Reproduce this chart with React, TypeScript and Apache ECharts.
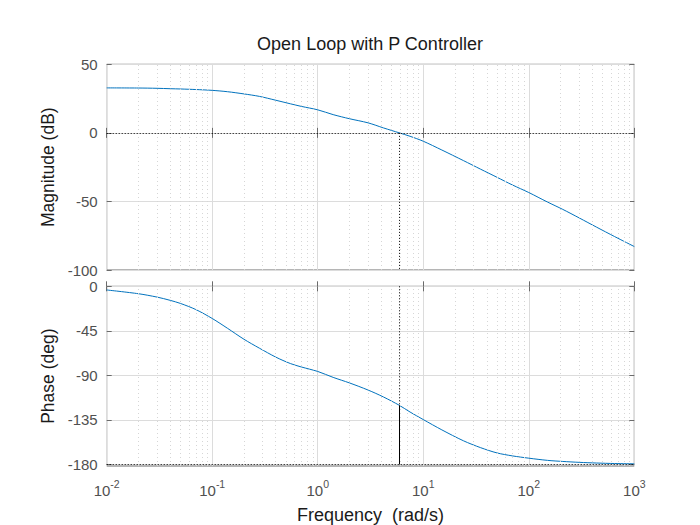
import { useEffect, useRef } from "react";
import * as echarts from "echarts";

// ---- data ----
const freq = [0.01, 0.02, 0.03, 0.04, 0.05, 0.07, 0.1, 0.14, 0.2, 0.28, 0.4, 0.55, 0.7, 1, 1.4, 2, 3, 4.2, 5.93, 7.5, 10, 15, 24, 35, 50, 70, 100, 150, 210, 300, 440, 650, 1000];
const magDb = [32.8, 32.7, 32.5, 32.2, 32.0, 31.6, 31.0, 30.0, 28.4, 26.6, 23.8, 21.2, 19.3, 16.8, 13.3, 10.3, 7.3, 3.6, 0, -2.5, -6.1, -12.5, -20.2, -26.5, -32.4, -38.0, -43.5, -50.4, -55.8, -62.0, -68.8, -75.6, -82.9];
const phaseDeg = [-3.7, -7.5, -10.9, -14.2, -17.3, -23.5, -32.5, -42.5, -53.5, -62.5, -71.5, -78.0, -81.5, -86.0, -92.0, -97.6, -104.8, -111.8, -120.2, -127.0, -134.6, -145.0, -156.0, -163.0, -168.3, -171.3, -173.6, -175.8, -176.9, -177.8, -178.5, -179.0, -179.3];
const crossoverFreq = 5.93;
const crossoverPhase = -120.2;
const magTicks = [50, 0, -50, -100];
const phaseTicks = [0, -45, -90, -135, -180];
const decades = [0.01, 0.1, 1, 10, 100];
const minorMultipliers = [2, 3, 4, 5, 6, 7, 8, 9];
const titleText = "Open Loop with P Controller";
const magLabel = "Magnitude (dB)";
const phaseLabel = "Phase (deg)";
const freqLabel = "Frequency  (rad/s)";

const FONT = "'Liberation Sans', Arial, Helvetica, sans-serif";
const TICK_COLOR = "#505050";
const BOX_COLOR = "#6b6b6b";
const GRID_COLOR = "#dcdcdc";
const MINOR_GRID_COLOR = "#d6d6d6";
const LINE_COLOR = "#0072BD";

export default function App() {
  const ref = useRef<HTMLDivElement>(null);

  useEffect(() => {
    if (!ref.current) return;
    const chart = echarts.init(ref.current, undefined, { renderer: "svg" });

    const minorValues: number[] = [];
    decades.forEach((d) => minorMultipliers.forEach((m) => minorValues.push(+(d * m).toPrecision(3))));

    const gridRects = [
      { left: 106.7, top: 64.3, width: 527.6, height: 205.7 },
      { left: 106.7, top: 286.3, width: 527.6, height: 180.4 },
    ];

    const logX = (gridIndex: number, position: "top" | "bottom", labels: boolean, split: boolean): any => ({
      type: "log",
      logBase: 10,
      gridIndex,
      position,
      min: 0.01,
      max: 1000,
      splitNumber: 5,
      axisLine: { show: false },
      axisTick: { show: true, inside: true, length: 5, lineStyle: { color: BOX_COLOR, width: 1 } },
      splitLine: { show: split, lineStyle: { color: GRID_COLOR, width: 1, type: "solid" } },
      axisLabel: labels
        ? {
            show: true,
            margin: 12,
            formatter: (v: number) => `{b|10}{s|${Math.round(Math.log10(v))}}`,
            rich: {
              b: { fontSize: 15, color: TICK_COLOR, fontFamily: FONT, lineHeight: 20, verticalAlign: "bottom" },
              s: { fontSize: 10.5, color: TICK_COLOR, fontFamily: FONT, lineHeight: 12, verticalAlign: "top" },
            },
          }
        : { show: false },
      name: labels ? freqLabel : undefined,
      nameLocation: "middle",
      nameGap: 40,
      nameTextStyle: { fontSize: 18, color: "#1a1a1a", fontFamily: FONT },
    });

    const valY = (gridIndex: number, position: "left" | "right", min: number, max: number, ticks: number[], labels: boolean, split: boolean, name?: string): any => ({
      type: "value",
      gridIndex,
      position,
      min,
      max,
      axisLine: { show: false },
      axisTick: { show: true, inside: true, length: 5, lineStyle: { color: BOX_COLOR, width: 1 }, customValues: ticks },
      axisLabel: labels
        ? { show: true, margin: 9, fontSize: 15, color: TICK_COLOR, fontFamily: FONT, customValues: ticks }
        : { show: false },
      splitLine: { show: split, lineStyle: { color: GRID_COLOR, width: 1, type: "solid" } },
      name,
      nameLocation: "middle",
      nameGap: 50,
      nameTextStyle: { fontSize: 17.5, color: "#1a1a1a", fontFamily: FONT },
    });

    const minorGridSeries = (xi: number, yi: number): any => ({
      type: "line",
      xAxisIndex: xi,
      yAxisIndex: yi,
      data: [],
      silent: true,
      z: 1,
      markLine: {
        silent: true,
        symbol: ["none", "none"],
        label: { show: false },
        animation: false,
        lineStyle: { color: MINOR_GRID_COLOR, width: 1, type: [1, 3] },
        data: minorValues.map((v) => ({ xAxis: v })),
      },
    });

    const dotted = { color: "#000", width: 1, type: [1, 2] as any };

    chart.setOption({
      animation: false,
      backgroundColor: "#ffffff",
      grid: gridRects.map((g) => ({ ...g, show: true, borderColor: BOX_COLOR, borderWidth: 1, backgroundColor: "transparent", containLabel: false })),
      xAxis: [logX(0, "bottom", false, true), logX(0, "top", false, false), logX(1, "bottom", true, true), logX(1, "top", false, false)],
      yAxis: [
        valY(0, "left", -100, 50, magTicks, true, true, magLabel),
        valY(0, "right", -100, 50, magTicks, false, false),
        valY(1, "left", -181.5, 0, phaseTicks, true, true, phaseLabel),
        valY(1, "right", -181.5, 0, phaseTicks, false, false),
      ],
      graphic: [
        {
          type: "text",
          x: 370,
          y: 44,
          style: { text: titleText, fontSize: 18, fontFamily: FONT, fill: "#1a1a1a", textAlign: "center", textVerticalAlign: "middle" },
        },
      ],
      series: [
        minorGridSeries(0, 0),
        minorGridSeries(2, 2),
        {
          type: "line",
          xAxisIndex: 0,
          yAxisIndex: 0,
          z: 3,
          data: freq.map((f, i) => [f, magDb[i]]),
          showSymbol: false,
          smooth: 0.3,
          lineStyle: { color: LINE_COLOR, width: 1 },
          markLine: {
            silent: true,
            symbol: ["none", "none"],
            label: { show: false },
            animation: false,
            data: [
              { yAxis: 0, lineStyle: dotted },
              [
                { coord: [crossoverFreq, 0], lineStyle: dotted },
                { coord: [crossoverFreq, -100] },
              ],
            ],
          },
        },
        {
          type: "line",
          xAxisIndex: 2,
          yAxisIndex: 2,
          z: 3,
          data: freq.map((f, i) => [f, phaseDeg[i]]),
          showSymbol: false,
          smooth: 0.3,
          lineStyle: { color: LINE_COLOR, width: 1 },
          markLine: {
            silent: true,
            symbol: ["none", "none"],
            label: { show: false },
            animation: false,
            data: [
              { yAxis: -180, lineStyle: dotted },
              [
                { coord: [crossoverFreq, 0], lineStyle: dotted },
                { coord: [crossoverFreq, crossoverPhase] },
              ],
              [
                { coord: [crossoverFreq, crossoverPhase], lineStyle: { color: "#000", width: 1, type: "solid" } },
                { coord: [crossoverFreq, -180] },
              ],
            ],
          },
        },
      ],
    });

    return () => chart.dispose();
  }, []);

  return (
    <div
      ref={ref}
      style={{ position: "absolute", left: 0, top: 0, width: 700, height: 525, background: "#fff" }}
    />
  );
}
